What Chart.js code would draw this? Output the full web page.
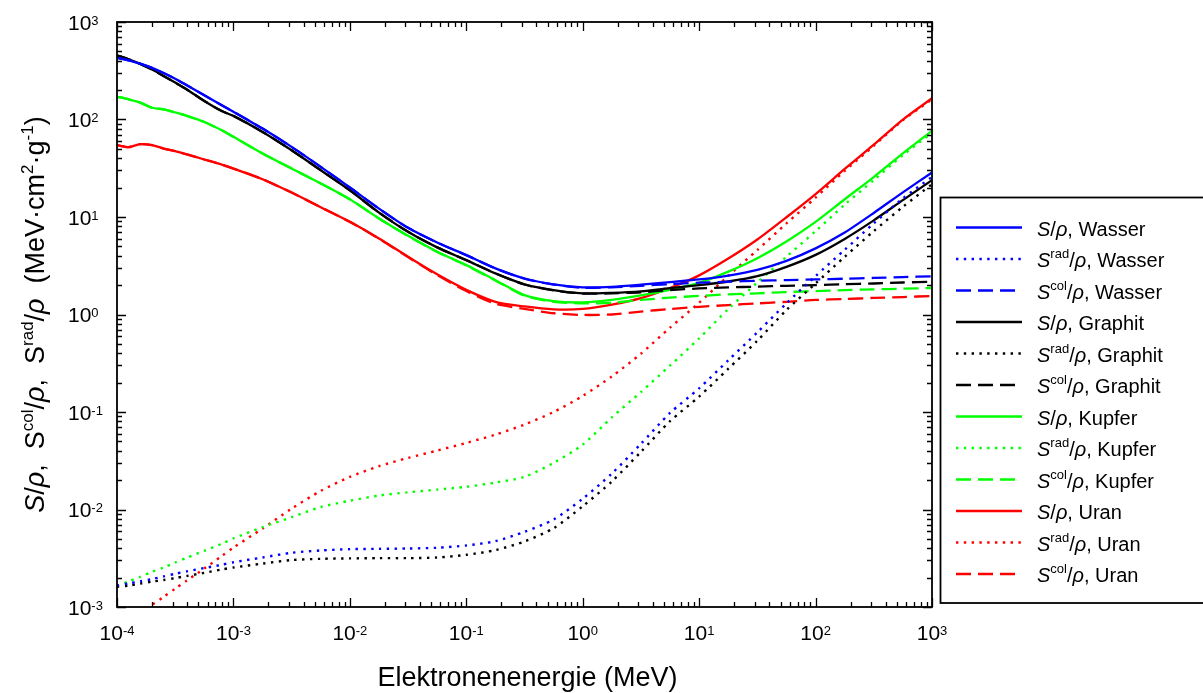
<!DOCTYPE html>
<html>
<head>
<meta charset="utf-8">
<script src="https://cdn.jsdelivr.net/npm/chart.js@4.4.0/dist/chart.umd.min.js"></script>
<style>
  html, body { margin: 0; padding: 0; background: #fff; }
  canvas { display: block; }
</style>
</head>
<body>
<canvas id="bremsvermoegen" width="1203" height="693"></canvas>
<script>
// Elektronenenergie in MeV
const energie = [1e-4, 1.26e-4, 1.58e-4, 2e-4, 2.51e-4, 3.16e-4, 3.98e-4, 5.62e-4, 7.94e-4, 1e-3,
  1.78e-3, 3.16e-3, 5.62e-3, 0.01, 0.0178, 0.0316, 0.0562, 0.1, 0.178, 0.316,
  0.562, 1, 1.78, 3.16, 5.62, 10, 17.8, 31.6, 56.2, 100,
  178, 316, 562, 1000];

// Massenbremsvermoegen in MeV cm^2/g: gesamt, radiativ, Stoss
const wasserS = [428, 405, 374, 338, 300, 262, 224, 177, 140, 120,
  80.7, 52.4, 32.7, 20.1, 12.2, 7.74, 5.48, 4.06, 2.97, 2.34,
  2.04, 1.90, 1.92, 2.02, 2.15, 2.29, 2.51, 2.87, 3.55, 4.77,
  6.94, 11.0, 17.9, 28.6];
const wasserRad = [0.00166, 0.00175, 0.00183, 0.00193, 0.00206, 0.00219, 0.00232, 0.00251, 0.00271, 0.00288,
  0.00322, 0.00360, 0.00380, 0.00392, 0.00395, 0.00398, 0.00405, 0.00428, 0.00473, 0.00590,
  0.00789, 0.0129, 0.0234, 0.0471, 0.0977, 0.175, 0.339, 0.656, 1.30, 2.48,
  4.61, 8.59, 15.5, 25.8];
const wasserCol = [428, 405, 374, 338, 300, 262, 224, 177, 140, 120,
  80.7, 52.4, 32.7, 20.1, 12.2, 7.74, 5.48, 4.06, 2.97, 2.33,
  2.03, 1.88, 1.90, 1.97, 2.05, 2.12, 2.17, 2.22, 2.25, 2.29,
  2.33, 2.37, 2.42, 2.46];

const graphitS = [455, 414, 372, 325, 280, 239, 203, 155, 122, 109,
  74.6, 48.4, 30.2, 18.8, 11.1, 7.05, 4.88, 3.61, 2.64, 2.04,
  1.78, 1.65, 1.67, 1.73, 1.86, 2.00, 2.18, 2.47, 3.08, 4.09,
  5.96, 9.24, 14.9, 23.9];
const graphitRad = [0.00161, 0.00166, 0.00174, 0.00182, 0.00189, 0.00198, 0.00208, 0.00224, 0.00243, 0.00254,
  0.00279, 0.00303, 0.00312, 0.00315, 0.00317, 0.00317, 0.00322, 0.00343, 0.00383, 0.00470,
  0.00643, 0.0108, 0.0194, 0.0390, 0.0804, 0.144, 0.278, 0.538, 1.11, 2.08,
  3.91, 7.16, 12.7, 21.7];
const graphitCol = [455, 414, 372, 325, 280, 239, 203, 155, 122, 109,
  74.6, 48.4, 30.2, 18.8, 11.1, 7.05, 4.88, 3.61, 2.64, 2.03,
  1.77, 1.64, 1.65, 1.69, 1.78, 1.85, 1.90, 1.93, 1.97, 2.00,
  2.05, 2.08, 2.13, 2.17];

const kupferS = [171, 161, 149, 132, 127, 118, 109, 94.4, 77.6, 66.4,
  44.8, 31.4, 22.1, 15.2, 9.66, 6.41, 4.40, 3.21, 2.25, 1.58,
  1.37, 1.33, 1.41, 1.57, 1.79, 2.11, 2.75, 3.78, 5.61, 8.90,
  15.2, 25.7, 44.9, 76.5];
const kupferRad = [0.00164, 0.00183, 0.00204, 0.00230, 0.00254, 0.00286, 0.00320, 0.00377, 0.00445, 0.00505,
  0.00659, 0.00834, 0.0106, 0.0123, 0.0139, 0.0150, 0.0160, 0.0171, 0.0189, 0.0216,
  0.0301, 0.0463, 0.0883, 0.160, 0.299, 0.569, 1.14, 2.13, 3.91, 7.16,
  13.4, 23.9, 43.1, 73.0];
const kupferCol = [171, 161, 149, 132, 127, 118, 109, 94.4, 77.6, 66.4,
  44.8, 31.4, 22.1, 15.2, 9.65, 6.39, 4.38, 3.19, 2.23, 1.56,
  1.35, 1.30, 1.32, 1.41, 1.49, 1.55, 1.61, 1.65, 1.70, 1.74,
  1.78, 1.81, 1.84, 1.87];

const uranS = [54.5, 52.0, 55.8, 54.5, 50.4, 47.3, 43.8, 38.9, 34.5, 31.4,
  24.4, 17.8, 12.6, 8.93, 6.03, 3.91, 2.58, 1.79, 1.35, 1.21,
  1.13, 1.14, 1.26, 1.47, 1.87, 2.52, 3.75, 5.88, 9.94, 17.2,
  31.1, 55.2, 99.7, 165];
const uranRad = [null, null, 0.000867, 0.00105, 0.00127, 0.00154, 0.00187, 0.00248, 0.00333, 0.00407,
  0.00638, 0.0102, 0.0155, 0.0216, 0.0278, 0.0338, 0.0402, 0.0482, 0.0586, 0.0743,
  0.100, 0.146, 0.232, 0.396, 0.733, 1.32, 2.50, 4.58, 8.59, 15.8,
  29.7, 53.7, 98.2, 161];
const uranCol = [54.5, 52.0, 55.8, 54.5, 50.4, 47.3, 43.8, 38.9, 34.5, 31.4,
  24.4, 17.8, 12.6, 8.91, 6.00, 3.88, 2.54, 1.74, 1.29, 1.14,
  1.03, 0.99, 1.00, 1.07, 1.14, 1.20, 1.25, 1.30, 1.35, 1.41,
  1.44, 1.48, 1.51, 1.55];

// Achsenbeschriftung: Zehnerpotenzen
const xExponenten = [-4, -3, -2, -1, 0, 1, 2, 3];
const yExponenten = [-3, -2, -1, 0, 1, 2, 3];

const materialien = ['Wasser', 'Graphit', 'Kupfer', 'Uran'];
const farben = ['#0000ff', '#000000', '#00ff00', '#ff0000'];

const SCHRIFT = '"Liberation Sans", Arial, sans-serif';
const GESTRICHELT = [15, 7];
const GEPUNKTET = [2.4, 5.4];

function serie(label, werte, farbe, strich) {
  return {
    label,
    data: energie.map((e, i) => ({ x: e, y: werte[i] })),
    borderColor: farbe,
    borderWidth: strich === GEPUNKTET ? 2.4 : 2.3,
    borderDash: strich,
    pointRadius: 0,
    fill: false,
    tension: 0.25,
    spanGaps: false
  };
}

const datensaetze = [
  serie('S', wasserS, farben[0], []),
  serie('rad', wasserRad, farben[0], GEPUNKTET),
  serie('col', wasserCol, farben[0], GESTRICHELT),
  serie('S', graphitS, farben[1], []),
  serie('rad', graphitRad, farben[1], GEPUNKTET),
  serie('col', graphitCol, farben[1], GESTRICHELT),
  serie('S', kupferS, farben[2], []),
  serie('rad', kupferRad, farben[2], GEPUNKTET),
  serie('col', kupferCol, farben[2], GESTRICHELT),
  serie('S', uranS, farben[3], []),
  serie('rad', uranRad, farben[3], GEPUNKTET),
  serie('col', uranCol, farben[3], GESTRICHELT)
];

// Text mit kursiven Teilen und Hochstellungen
function textTeile(ctx, teile, x, y, groesse, hoch, zeichnen) {
  let cx = x;
  for (const t of teile) {
    const g = t.sup ? Math.round(groesse * 0.64) : groesse;
    ctx.font = (t.it ? 'italic ' : '') + g + 'px ' + SCHRIFT;
    if (zeichnen) ctx.fillText(t.s, cx, t.sup ? y - hoch : y);
    cx += ctx.measureText(t.s).width;
  }
  return cx - x;
}

function potenz(exp) {
  return [{ s: '10' }, { s: String(exp), sup: true }];
}

const rahmenPlugin = {
  id: 'rahmen',
  afterDraw(chart) {
    const { ctx, chartArea: a, scales: { x, y } } = chart;
    ctx.save();
    ctx.fillStyle = '#000';
    ctx.strokeStyle = '#000';
    ctx.setLineDash([]);

    // Rahmen ums Diagramm
    ctx.lineWidth = 1.8;
    ctx.strokeRect(a.left, a.top, a.right - a.left, a.bottom - a.top);

    // Teilstriche innen, auf allen vier Seiten
    ctx.lineWidth = 1.3;
    ctx.beginPath();
    for (let d = xExponenten[0]; d <= xExponenten[xExponenten.length - 1]; d++) {
      for (let m = 1; m <= 9; m++) {
        const v = m * Math.pow(10, d);
        if (v > x.max * 1.0001) break;
        const px = Math.round(x.getPixelForValue(v)) + 0.5;
        const len = m === 1 ? 9 : 5;
        ctx.moveTo(px, a.bottom); ctx.lineTo(px, a.bottom - len);
        ctx.moveTo(px, a.top); ctx.lineTo(px, a.top + len);
      }
    }
    for (let d = yExponenten[0]; d <= yExponenten[yExponenten.length - 1]; d++) {
      for (let m = 1; m <= 9; m++) {
        const v = m * Math.pow(10, d);
        if (v > y.max * 1.0001) break;
        const py = Math.round(y.getPixelForValue(v)) + 0.5;
        const len = m === 1 ? 9 : 5;
        ctx.moveTo(a.left, py); ctx.lineTo(a.left + len, py);
        ctx.moveTo(a.right, py); ctx.lineTo(a.right - len, py);
      }
    }
    ctx.stroke();

    // Tick-Beschriftung
    ctx.textBaseline = 'alphabetic';
    ctx.textAlign = 'left';
    for (const e of xExponenten) {
      const px = x.getPixelForValue(Math.pow(10, e));
      const w = textTeile(ctx, potenz(e), 0, 0, 21, 5, false);
      textTeile(ctx, potenz(e), px - w / 2, 640, 21, 5, true);
    }
    for (const e of yExponenten) {
      const py = y.getPixelForValue(Math.pow(10, e));
      textTeile(ctx, potenz(e), 68, py + 7.5, 21, 5, true);
    }

    // Achsentitel
    const xTitel = [{ s: 'Elektronenenergie (MeV)' }];
    const wx = textTeile(ctx, xTitel, 0, 0, 27, 0, false);
    textTeile(ctx, xTitel, (a.left + a.right) / 2 + 3 - wx / 2, 686, 27, 0, true);

    const yTitel = [
      { s: 'S', it: true }, { s: '/' }, { s: 'ρ', it: true }, { s: ',  S' },
      { s: 'col', sup: true }, { s: '/' }, { s: 'ρ', it: true }, { s: ',  S' },
      { s: 'rad', sup: true }, { s: '/' }, { s: 'ρ', it: true }, { s: '  (MeV·cm' },
      { s: '2', sup: true }, { s: '·g' }, { s: '-1', sup: true }, { s: ')' }
    ];
    const wy = textTeile(ctx, yTitel, 0, 0, 27, 11, false);
    ctx.save();
    ctx.translate(44, (a.top + a.bottom) / 2);
    ctx.rotate(-Math.PI / 2);
    textTeile(ctx, yTitel, -wy / 2, 0, 27, 11, true);
    ctx.restore();

    // Legende
    ctx.lineWidth = 1.8;
    ctx.strokeRect(940.5, 197.5, 280, 405.5);
    chart.data.datasets.forEach((ds, i) => {
      const ly = 227.5 + i * 31.5;
      ctx.save();
      ctx.strokeStyle = ds.borderColor;
      ctx.lineWidth = ds.borderWidth;
      ctx.setLineDash(ds.borderDash);
      ctx.beginPath();
      ctx.moveTo(956, ly);
      ctx.lineTo(1022, ly);
      ctx.stroke();
      ctx.restore();
      const mat = materialien[Math.floor(i / 3)];
      const teile = ds.label === 'S'
        ? [{ s: 'S', it: true }, { s: '/' }, { s: 'ρ', it: true }, { s: ', ' + mat }]
        : [{ s: 'S', it: true }, { s: ds.label, sup: true }, { s: '/' }, { s: 'ρ', it: true }, { s: ', ' + mat }];
      textTeile(ctx, teile, 1037, ly + 8, 20, 9, true);
    });

    ctx.restore();
  }
};

new Chart(document.getElementById('bremsvermoegen'), {
  type: 'line',
  data: { datasets: datensaetze },
  options: {
    responsive: false,
    animation: false,
    layout: { padding: { left: 117, top: 22, right: 271, bottom: 86 } },
    plugins: { legend: { display: false }, tooltip: { enabled: false } },
    scales: {
      x: { type: 'logarithmic', min: 1e-4, max: 1e3, display: false },
      y: { type: 'logarithmic', min: 1e-3, max: 1e3, display: false }
    }
  },
  plugins: [rahmenPlugin]
});
</script>
</body>
</html>
